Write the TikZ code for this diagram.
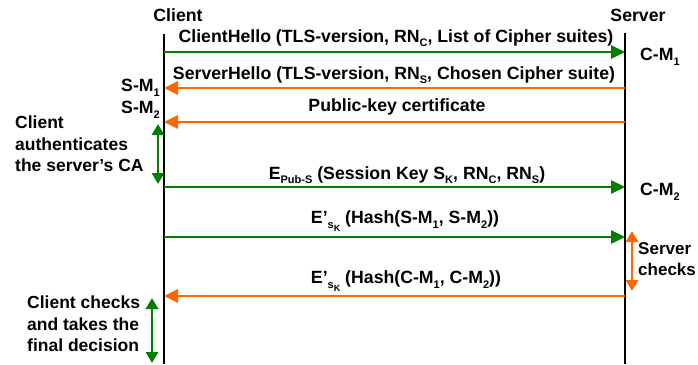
\documentclass[tikz,border=0pt]{standalone}
\usepackage{fontspec}
\setmainfont{Liberation Sans}
\usetikzlibrary{arrows.meta}
\definecolor{msggreen}{RGB}{0,128,0}
\definecolor{msgorange}{RGB}{255,102,0}
% lowered subscripts in the style of the original slide
\newcommand\lo[1]{\raisebox{-0.5ex}{\fontsize{11}{11}\selectfont #1}}
\newcommand\lolo[1]{\raisebox{-0.45ex}{\fontsize{9}{9}\selectfont #1}}
\begin{document}
\begin{tikzpicture}[x=1pt,y=-1pt,
  every node/.style={font=\fontsize{17.7}{22}\selectfont\bfseries, inner sep=0pt},
  lifeline/.style={line width=2pt, black},
  tomsg/.style={line width=2.8pt, msggreen, -{Triangle[length=14pt,width=13pt]}},
  frommsg/.style={line width=2.8pt, msgorange, -{Triangle[length=14pt,width=13pt]}},
  gspan/.style={line width=2.8pt, msggreen, {Triangle[length=11pt,width=12pt]}-{Triangle[length=11pt,width=12pt]}},
  ospan/.style={line width=2.8pt, msgorange, {Triangle[length=11pt,width=12pt]}-{Triangle[length=11pt,width=12pt]}},
  note/.style={align=left, anchor=north west, font=\fontsize{17.5}{21.5}\selectfont\bfseries}]
\useasboundingbox[fill=white] (0,0) rectangle (698,364);

% participants and lifelines
\node (client) at (178,15) {Client};
\node (server) at (638,15) {Server};
\coordinate (ctop) at (164,34);
\coordinate (cbot) at (164,364);
\coordinate (stop) at (625,33);
\coordinate (sbot) at (625,364);
\draw[lifeline] (ctop) -- (cbot);
\draw[lifeline] (stop) -- (sbot);

% message end points on the lifelines
\foreach \n/\y in {1/52,2/88,3/122,4/187,5/237,6/296}{
  \coordinate (c\n) at (164,\y);
  \coordinate (s\n) at (625,\y);
}

% messages
\draw[tomsg] (c1) -- (s1);
\node (m1) at (396,38) {ClientHello (TLS-version, RN\lo{C}, List of Cipher suites)};
\draw[frommsg] (s2) -- (c2);
\node (m2) at (394,75) {ServerHello (TLS-version, RN\lo{S}, Chosen Cipher suite)};
\draw[frommsg] (s3) -- (c3);
\node (m3) at (397,107) {Public-key certificate};
\draw[tomsg] (c4) -- (s4);
\node (m4) at (407,175) {E\lo{Pub-S} (Session Key S\lo{K}, RN\lo{C}, RN\lo{S})};
\draw[tomsg] (c5) -- (s5);
\node (m5) at (405,221) {E'\lo{s\lolo{K}} (Hash(S-M\lo{1}, S-M\lo{2}))};
\draw[frommsg] (s6) -- (c6);
\node (m6) at (406,281) {E'\lo{s\lolo{K}} (Hash(C-M\lo{1}, C-M\lo{2}))};

% stored message names
\node[anchor=east] (sm1) at (160,88) {S-M\lo{1}};
\node[anchor=east] (sm2) at (160,110) {S-M\lo{2}};
\node[anchor=west] (cm1) at (640,57) {C-M\lo{1}};
\node[anchor=west] (cm2) at (640,192) {C-M\lo{2}};

% local processing intervals
\coordinate (ca1) at (158,124);
\coordinate (ca2) at (158,184);
\draw[gspan] (ca1) -- (ca2);
\node[note] (auth) at (15,116) {Client\\authenticates\\the server's CA};

\coordinate (sc1) at (632,231);
\coordinate (sc2) at (632,291);
\draw[ospan] (sc1) -- (sc2);
\node[note, font=\fontsize{17}{21.5}\selectfont\bfseries] (schk) at (638,242) {Server\\checks};

\coordinate (cc1) at (152,298);
\coordinate (cc2) at (152,363);
\draw[gspan] (cc1) -- (cc2);
\node[note] (cchk) at (27,296) {Client checks\\and takes the\\final decision};
\end{tikzpicture}
\end{document}
